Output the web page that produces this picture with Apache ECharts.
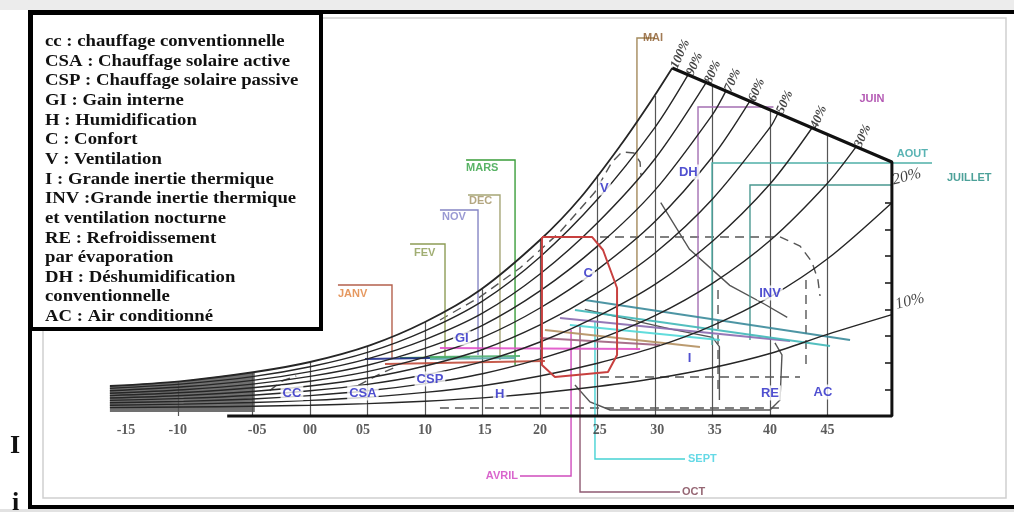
<!DOCTYPE html>
<html>
<head>
<meta charset="utf-8">
<script src="https://cdn.jsdelivr.net/npm/echarts@6/dist/echarts.min.js"></script>
<style>
  html, body { margin: 0; padding: 0; background: #fff; }
  #chart { width: 1014px; height: 512px; }
</style>
</head>
<body>
<div id="chart"></div>
<script>
  // temperature axis (deg C) : label positions are not evenly spaced in the scan
  var tickValues = [-16, -11.5, -4.6, 0, 4.6, 10, 15.2, 20, 25.2, 30.2, 35.2, 40, 45];
  var tickLabels = ['-15', '-10', '-05', '00', '05', '10', '15', '20', '25', '30', '35', '40', '45'];

  // humidity curves, [temp, humidity g/kg]
  var rhLabels = ['100%', '90%', '80%', '70%', '60%', '50%', '40%', '30%', '20%', '10%'];
  var rh100 = [[-17.4, 2.25], [-11.3, 2.6], [-4.8, 3.3], [0, 4.05], [5.2, 5.3], [10, 7.05], [14.8, 9.45], [20, 13.2], [23.5, 16.35], [27, 20.3], [29.6, 23.55], [31.5, 26.1]];
  var rh90 = [[-17.4, 2.07], [-11, 2.41], [-5, 2.95], [0, 3.69], [5, 4.77], [10, 6.39], [15, 8.62], [20, 11.93], [25, 16.25], [30, 21.65], [32.87, 25.58]];
  var rh80 = [[-17.4, 1.89], [-11, 2.19], [-5, 2.67], [0, 3.33], [5, 4.29], [10, 5.73], [15, 7.71], [20, 10.65], [25, 14.49], [30, 19.29], [34.43, 24.98]];
  var rh70 = [[-17.4, 1.71], [-11, 1.97], [-5, 2.39], [0, 2.97], [5, 3.81], [10, 5.07], [15, 6.8], [20, 9.38], [25, 12.74], [30, 16.94], [35, 22.61], [36.17, 24.38]];
  var rh60 = [[-17.4, 1.53], [-11, 1.76], [-5, 2.12], [0, 2.61], [5, 3.33], [10, 4.41], [15, 5.9], [20, 8.1], [25, 10.98], [30, 14.58], [35, 19.44], [38.26, 23.63]];
  var rh50 = [[-17.4, 1.35], [-11, 1.54], [-5, 1.84], [0, 2.25], [5, 2.85], [10, 3.75], [15, 4.99], [20, 6.83], [25, 9.23], [30, 12.23], [35, 16.28], [40, 21.64], [40.7, 22.73]];
  var rh40 = [[-17.4, 1.17], [-11, 1.32], [-5, 1.56], [0, 1.89], [5, 2.37], [10, 3.09], [15, 4.08], [20, 5.55], [25, 7.47], [30, 9.87], [35, 13.11], [40, 17.4], [43.65, 21.6]];
  var rh30 = [[-17.4, 0.99], [-11, 1.1], [-5, 1.28], [0, 1.53], [5, 1.89], [10, 2.43], [15, 3.17], [20, 4.28], [25, 5.72], [30, 7.52], [35, 9.95], [40, 13.16], [45, 17.46], [47.48, 20.18]];
  var rh20 = [[-17.4, 0.81], [-11, 0.89], [-5, 1.01], [0, 1.17], [5, 1.41], [10, 1.77], [15, 2.27], [20, 3.0], [25, 3.96], [30, 5.16], [35, 6.78], [40, 8.93], [45, 11.79], [50.6, 16.0]];
  var rh10 = [[-17.4, 0.63], [-11, 0.67], [-5, 0.73], [0, 0.81], [5, 0.93], [10, 1.11], [15, 1.36], [20, 1.73], [25, 2.21], [30, 2.81], [35, 3.62], [40, 4.69], [45, 6.12], [50.6, 7.6]];
  var rhCurves = [rh100, rh90, rh80, rh70, rh60, rh50, rh40, rh30, rh20, rh10];

  // chart outline : top slanted limit, right edge, bottom
  var outline = [[31.5, 26.1], [50.6, 19.05], [50.6, 0], [-7.2, 0]];
  var rightTicks = [2, 4, 6, 8, 10, 12, 14, 16];
  var bandOutline = [[-17.4, 0.3], [-17.4, 2.25], [-11.3, 2.6], [-4.8, 3.3], [-4.8, 0.3]];

  // dry bulb verticals and where they stop
  var isoTemps = [-11.5, -5, 0, 5, 10, 15, 20, 25, 30, 35, 40, 45];
  var isoTops = [2.6, 3.28, 4.05, 5.25, 7.05, 9.5, 13.2, 18.1, 24.0, 24.8, 22.96, 21.1];

  // zones
  var comfortZone = [[20.17, 13.43], [24.52, 13.43], [25.48, 12.45], [26.7, 9.6], [26.7, 4.58], [25.91, 3.3], [21.3, 2.93], [20.17, 3.83], [20.17, 13.43]];
  var dashedZones = [
    [[25.22, 13.43], [40.87, 13.43], [42.61, 12.75], [43.65, 11.55], [44.17, 10.2], [44.35, 9.0]],
    [[25.22, 2.93], [42.61, 2.93]],
    [[11.3, 0.6], [40.87, 0.6]],
    [[35.48, 9.45], [35.48, 1.58]],
    [[43.13, 10.2], [43.13, 3.83]],
    [[11.3, 7.2], [14.78, 8.93], [18.26, 11.1], [21.74, 13.8], [24.78, 16.8], [26.26, 19.05], [27.13, 19.8], [28.17, 19.73], [28.7, 19.05], [28.78, 18.08]],
    [[-3.5, 1.9], [-2.5, 2.6], [-1.2, 3.0]],
    [[4.2, 2.3], [6.2, 3.2], [7.5, 3.7]]
  ];
  var solidZones = [
    [[23.04, 2.33], [24.35, 1.05], [26.09, 0.45], [40.0, 0.45], [40.87, 1.2], [41.04, 4.58], [40.43, 5.48]],
    [[23.9, 8.0], [31.5, 6.5], [35.0, 5.9], [35.6, 5.2], [35.6, 1.2]],
    [[30.5, 16.0], [33.0, 12.5], [36.5, 9.8], [39.5, 8.4], [41.5, 7.4]]
  ];
  var zoneNames = ['CC', 'CSA', 'CSP', 'GI', 'H', 'C', 'V', 'DH', 'INV', 'I', 'RE', 'AC'];
  var zonePos = [[-1.57, 1.73], [4.6, 1.73], [10.43, 2.78], [13.2, 5.85], [16.5, 1.65], [24.2, 10.73], [25.6, 17.1], [32.9, 18.3], [40, 9.23], [33.0, 4.35], [40, 1.73], [44.6, 1.8]];

  // months : leader line from the label, then the month's segment
  var monthNames = ['JANV', 'FEV', 'MARS', 'AVRIL', 'MAI', 'JUIN', 'JUILLET', 'AOUT', 'SEPT', 'OCT', 'NOV', 'DEC'];
  var monthLeaders = [
    [[2.43, 9.83], [7.13, 9.83], [7.13, 4.35]],
    [[8.7, 12.9], [11.74, 12.9], [11.74, 4.35]],
    [[13.57, 19.2], [17.83, 19.2], [17.83, 3.83]],
    [[18.26, -4.5], [22.7, -4.5], [22.7, 6.45]],
    [[30.0, 28.35], [28.43, 28.35], [28.43, 4.95]],
    [[40.3, 23.18], [33.74, 23.18], [33.74, 6.45]],
    [[50.6, 17.33], [38.26, 17.33], [38.26, 5.7]],
    [[54.09, 18.98], [34.96, 18.98], [34.96, 5.33]],
    [[32.61, -3.23], [24.78, -3.23], [24.78, 7.05]],
    [[32.17, -5.7], [23.48, -5.7], [23.48, 6.83]],
    [[11.3, 15.45], [14.61, 15.45], [14.61, 4.58]],
    [[13.74, 16.58], [16.52, 16.58], [16.52, 4.2]]
  ];
  var monthSegments = [
    [[6.52, 3.9], [20.43, 4.13]],
    [[7.83, 4.35], [13.91, 4.43]],
    [[10.43, 4.43], [18.26, 4.5]],
    [[11.3, 5.1], [28.7, 5.03]],
    [[20.43, 6.45], [33.91, 5.18]],
    [[21.74, 7.35], [41.74, 5.63]],
    [[23.91, 8.7], [46.96, 5.7]],
    [[23.04, 7.95], [45.22, 5.25]],
    [[22.6, 6.83], [35.65, 5.7]],
    [[20.0, 5.85], [30.43, 5.33]],
    [[4.78, 4.28], [10.43, 4.35]],
    [[10.43, 4.28], [17.83, 4.35]]
  ];

  var legendLines = [
    'cc : chauffage conventionnelle',
    'CSA : Chauffage solaire active',
    'CSP : Chauffage solaire passive',
    'GI : Gain interne',
    'H : Humidification',
    'C : Confort',
    'V : Ventilation',
    'I : Grande inertie thermique',
    'INV :Grande inertie thermique',
    'et ventilation nocturne',
    'RE : Refroidissement',
    'par \u00e9vaporation',
    'DH : D\u00e9shumidification',
    'conventionnelle',
    'AC : Air conditionn\u00e9'
  ];

  // styles
  var leaderColors = ['#b4604c', '#8d9c55', '#3a9d3a', '#cf4cbd', '#a48a5c', '#a46fb3', '#4a9890', '#4fb0a8', '#45d2d4', '#8e5a72', '#8585c4', '#a6a676'];
  var labelColors = ['#e0803a', '#8a9a50', '#2fa040', '#d040c0', '#8b5a2b', '#a030a0', '#1f8a80', '#2fa0a0', '#3fd0e0', '#7a4050', '#7f7fc8', '#a09060'];
  var segColors = ['#c04a3a', '#3a9a3a', '#50b070', '#e050c8', '#b49060', '#8a6ab0', '#3a8a9a', '#40b8b8', '#50d8d8', '#a06080', '#1e2a8c', '#5aa8a8'];
  // label side, dx, dy for each month
  var monthLabelPlace = [
    ['right', 0, 9], ['right', 4, 9], ['right', 0, 8], ['left', -2, 0], ['top', -2, 0], ['right', 86, -8],
    ['right', 55, -7], ['left', -4, -9], ['right', 3, 0], ['right', 2, 0], ['right', 2, 7], ['right', 1, 6]
  ];

  var chart = echarts.init(document.getElementById('chart'));

  var series = [];

  series.push({
    type: 'custom',
    silent: true,
    renderItem: function (params, api) {
      var pts = bandOutline.map(function (p) { return api.coord(p); });
      return { type: 'polygon', shape: { points: pts }, style: { fill: '#707070' } };
    },
    data: [[0, 0]]
  });

  series.push({
    type: 'lines',
    coordinateSystem: 'cartesian2d',
    silent: true,
    lineStyle: { color: '#555', width: 1.2, opacity: 1 },
    data: isoTemps.map(function (t, i) {
      return { coords: [[t, 0], [t, isoTops[i]]] };
    })
  });

  rhCurves.forEach(function (c, i) {
    series.push({
      name: rhLabels[i],
      type: 'line',
      data: c,
      smooth: 0.3,
      symbol: 'none',
      silent: true,
      lineStyle: { color: '#262626', width: i === 0 ? 1.8 : 1.4 }
    });
  });

  series.push({
    type: 'line',
    data: outline,
    symbol: 'none',
    silent: true,
    lineStyle: { color: '#111', width: 3 }
  });

  series.push({
    type: 'lines',
    coordinateSystem: 'cartesian2d',
    silent: true,
    lineStyle: { color: '#111', width: 1.5, opacity: 1 },
    data: rightTicks.map(function (w) { return { coords: [[50.0, w], [50.6, w]] }; })
  });

  series.push({
    type: 'lines',
    coordinateSystem: 'cartesian2d',
    polyline: true,
    silent: true,
    lineStyle: { color: '#555', width: 1.4, type: [9, 6], opacity: 1 },
    data: dashedZones.map(function (p) { return { coords: p }; })
  });

  series.push({
    type: 'lines',
    coordinateSystem: 'cartesian2d',
    polyline: true,
    silent: true,
    lineStyle: { color: '#555', width: 1.4, opacity: 1 },
    data: solidZones.map(function (p) { return { coords: p }; })
  });

  series.push({
    type: 'lines',
    coordinateSystem: 'cartesian2d',
    polyline: true,
    silent: true,
    data: monthLeaders.map(function (p, i) {
      return { coords: p, lineStyle: { color: leaderColors[i], width: 1.4, opacity: 1 } };
    })
  });

  series.push({
    type: 'lines',
    coordinateSystem: 'cartesian2d',
    silent: true,
    data: monthSegments.map(function (p, i) {
      return { coords: p, lineStyle: { color: segColors[i], width: 2, opacity: 0.9 } };
    })
  });

  series.push({
    type: 'line',
    data: comfortZone,
    symbol: 'none',
    silent: true,
    lineStyle: { color: '#c8403f', width: 2 }
  });

  // temperature tick labels under the base line
  series.push({
    type: 'scatter',
    symbolSize: 0,
    silent: true,
    data: tickValues.map(function (v, i) { return { value: [v, 0], name: tickLabels[i] }; }),
    label: {
      show: true,
      position: 'bottom',
      distance: 7,
      formatter: '{b}',
      fontFamily: 'Liberation Serif',
      fontWeight: 'bold',
      fontSize: 14,
      color: '#333'
    }
  });

  // zone names sit on white patches over the lines
  series.push({
    type: 'scatter',
    symbolSize: 0,
    silent: true,
    z: 20,
    zlevel: 1,
    data: zonePos.map(function (p, i) { return { value: p, name: zoneNames[i] }; }),
    label: {
      show: true,
      position: 'inside',
      formatter: '{b}',
      fontFamily: 'Liberation Sans',
      fontWeight: 'bold',
      fontSize: 13,
      color: '#2424c4',
      backgroundColor: '#fff',
      padding: [1, 2]
    }
  });

  series.push({
    type: 'scatter',
    symbolSize: 0,
    silent: true,
    data: rhCurves.map(function (c, i) {
      var item = { value: c[c.length - 1], name: rhLabels[i] };
      if (i >= 8) {
        item.label = { rotate: 14, offset: [4, i === 8 ? -22 : -9], fontSize: 16, fontWeight: 'normal' };
      }
      return item;
    }),
    label: {
      show: true,
      position: 'right',
      distance: 2,
      rotate: 66,
      align: 'left',
      verticalAlign: 'middle',
      formatter: '{b}',
      fontFamily: 'Liberation Serif',
      fontStyle: 'italic',
      fontWeight: 'bold',
      fontSize: 13,
      color: '#111'
    }
  });

  series.push({
    type: 'scatter',
    symbolSize: 0,
    silent: true,
    data: monthLeaders.map(function (p, i) {
      var pl = monthLabelPlace[i];
      return {
        value: p[0],
        name: monthNames[i],
        label: {
          position: pl[0],
          offset: [pl[1], pl[2]],
          align: pl[0] === 'left' ? 'right' : (pl[0] === 'right' ? 'left' : 'center'),
          color: labelColors[i]
        }
      };
    }),
    label: {
      show: true,
      distance: 0,
      verticalAlign: 'middle',
      formatter: '{b}',
      fontFamily: 'Liberation Sans',
      fontWeight: 'bold',
      fontSize: 11
    }
  });

  var graphics = [
    { type: 'rect', shape: { x: 0, y: 0, width: 1014, height: 10 }, style: { fill: '#ececec' } },
    { type: 'rect', shape: { x: 0, y: 509, width: 1014, height: 3 }, style: { fill: '#e2e2e2' } },
    { type: 'rect', shape: { x: 43, y: 18, width: 963, height: 480 }, style: { fill: null, stroke: '#d0d0d0', lineWidth: 1.5 } },
    { type: 'polyline', shape: { points: [[1014, 12], [30, 12], [30, 507], [1014, 507]] }, style: { fill: null, stroke: '#000', lineWidth: 4 } },
    { type: 'rect', z: 100, shape: { x: 31, y: 13, width: 290, height: 316 }, style: { fill: '#fff', stroke: '#000', lineWidth: 4 } },
    { type: 'text', style: { text: 'I', x: 10, y: 446, font: 'bold 26px "Liberation Serif"', fill: '#111', verticalAlign: 'middle' } },
    { type: 'text', style: { text: 'i', x: 12, y: 503, font: 'bold 26px "Liberation Serif"', fill: '#111', verticalAlign: 'middle' } }
  ];
  // legend text is stretched sideways in the scan
  legendLines.forEach(function (t, i) {
    graphics.push({
      type: 'text',
      z: 101,
      x: 45,
      y: 42 + i * 19.64,
      scaleX: 1.17,
      style: { text: t, x: 0, y: 0, font: 'bold 16px "Liberation Serif"', fill: '#111', verticalAlign: 'middle' }
    });
  });

  chart.setOption({
    animation: false,
    backgroundColor: '#fff',
    grid: { left: 103, right: 14, top: 16, bottom: 2.667, outerBoundsMode: 'none' },
    xAxis: {
      type: 'value',
      min: -18,
      max: 60,
      show: false,
      splitLine: { show: false }
    },
    yAxis: {
      type: 'value',
      min: -7,
      max: 30,
      show: false,
      splitLine: { show: false }
    },
    graphic: { elements: graphics },
    series: series
  });
</script>
</body>
</html>
